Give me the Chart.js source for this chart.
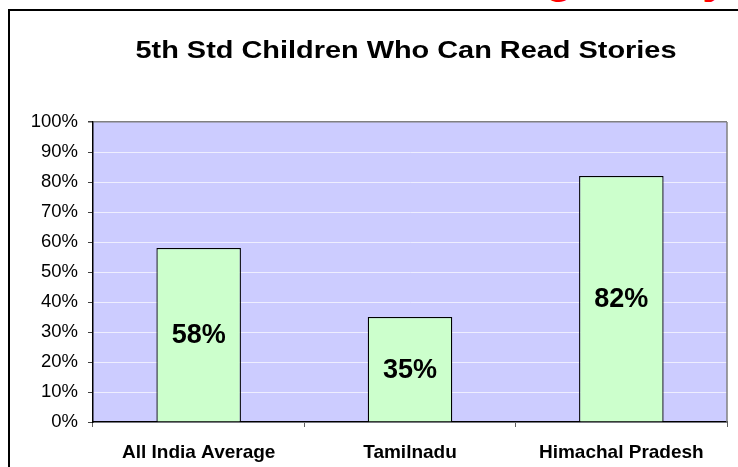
<!DOCTYPE html>
<html>
<head>
<meta charset="utf-8">
<script src="https://cdn.jsdelivr.net/npm/chart.js@4"></script>
<style>
body{margin:0;background:#fff;overflow:hidden;}
#wrap{position:relative;width:738px;height:467px;overflow:hidden;}
#frame{position:absolute;left:8px;top:9px;width:800px;height:500px;border-top:2px solid #000;border-left:2px solid #000;}
#slide{position:absolute;left:388px;top:-48px;font:bold 47px 'Liberation Sans',Arial,sans-serif;line-height:47px;color:#f00;white-space:nowrap;}
canvas{position:absolute;left:0;top:0;}
</style>
</head>
<body>
<div id="wrap">
  <div id="slide">Reading Ability</div>
  <div id="frame"></div>
  <canvas id="bar-chart" width="738" height="467"></canvas>
</div>
<script>
var chartTitle = '5th Std Children Who Can Read Stories';
var categories = ['All India Average', 'Tamilnadu', 'Himachal Pradesh'];
var readStories = [58, 35, 82];
var yMin = 0, yMax = 100, yStep = 10;

var FONT = "'Liberation Sans', Arial, sans-serif";

// lavender plot area + grey frame on the right
var plotBg = {
    id: 'plotBg',
    beforeDraw: function(chart){
        var a = chart.chartArea, ctx = chart.ctx;
        ctx.save();
        ctx.fillStyle = '#CCCCFF';
        ctx.fillRect(a.left, a.top, a.right - a.left, a.bottom - a.top);
        ctx.restore();
    },
    afterDraw: function(chart){
        var a = chart.chartArea, ctx = chart.ctx;
        ctx.save();
        ctx.strokeStyle = '#808080';
        ctx.lineWidth = 1.5;
        ctx.beginPath();
        ctx.moveTo(a.right, a.top);
        ctx.lineTo(a.right, a.bottom);
        ctx.stroke();
        ctx.restore();
    }
};

// the slide's title is stretched sideways
var wideTitle = {
    id: 'wideTitle',
    afterDraw: function(chart){
        var ctx = chart.ctx;
        ctx.save();
        ctx.font = 'bold 24px ' + FONT;
        ctx.fillStyle = '#000';
        ctx.textBaseline = 'alphabetic';
        ctx.textAlign = 'center';
        var sx = 541 / ctx.measureText(chartTitle).width;
        ctx.translate(406, 58);
        ctx.scale(sx, 1);
        ctx.fillText(chartTitle, 0, 0);
        ctx.restore();
    }
};

// percentage inside each bar
var barLabels = {
    id: 'barLabels',
    afterDatasetsDraw: function(chart){
        var ctx = chart.ctx;
        var meta = chart.getDatasetMeta(0);
        ctx.save();
        ctx.font = 'bold 27px ' + FONT;
        ctx.fillStyle = '#000';
        ctx.textAlign = 'center';
        ctx.textBaseline = 'middle';
        meta.data.forEach(function(bar, i){
            ctx.fillText(readStories[i] + '%', bar.x, (bar.y + bar.base) / 2 + 1);
        });
        ctx.restore();
    }
};

new Chart(document.getElementById('bar-chart'), {
    type: 'bar',
    data: {
        labels: categories,
        datasets: [{
            label: chartTitle,
            data: readStories,
            backgroundColor: '#CCFFCC',
            borderColor: '#000000',
            borderWidth: 1.3,
            barPercentage: 0.4,
            categoryPercentage: 1
        }]
    },
    options: {
        responsive: false,
        animation: false,
        devicePixelRatio: 1,
        layout: { padding: { top: 122, right: 11, left: 0, bottom: 0 } },
        plugins: {
            legend: { display: false },
            title: { display: false },
            tooltip: { enabled: false }
        },
        scales: {
            x: {
                grid: { drawOnChartArea: false, tickLength: 5, tickColor: '#606060' },
                border: { color: '#000', width: 1.5 },
                ticks: { color: '#000', padding: 14, font: { family: FONT, size: 19, weight: 'bold' } },
                afterFit: function(s){ s.height = 45; }
            },
            y: {
                min: yMin,
                max: yMax,
                grid: {
                    color: function(c){ return c.tick && c.tick.value === yMax ? '#808080' : '#EEEEFF'; },
                    lineWidth: function(c){ return c.tick && c.tick.value === yMax ? 1.5 : 1; },
                    tickLength: 5,
                    tickColor: '#404040'
                },
                border: { color: '#000', width: 1.5 },
                ticks: {
                    stepSize: yStep,
                    color: '#000',
                    padding: 10,
                    font: { family: FONT, size: 18.5 },
                    callback: function(v){ return v + '%'; }
                },
                afterFit: function(s){ s.width = 93; }
            }
        }
    },
    plugins: [plotBg, barLabels, wideTitle]
});
</script>
</body>
</html>
